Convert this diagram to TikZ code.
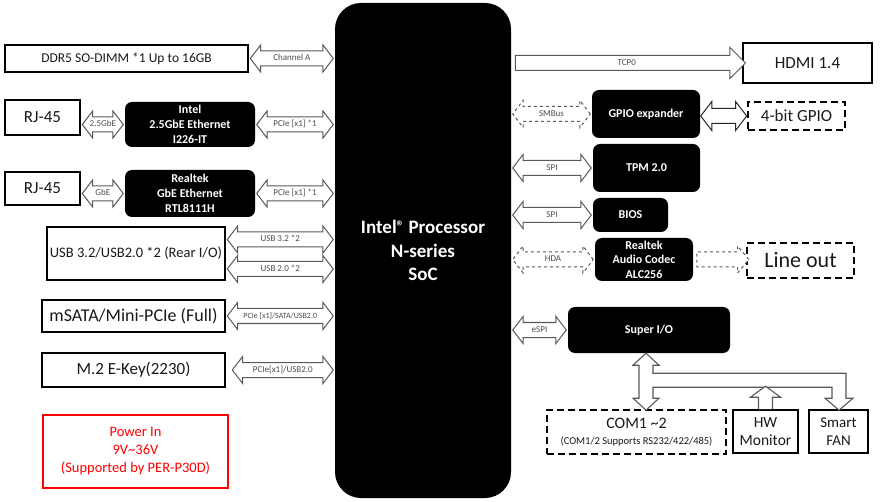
\documentclass[tikz,border=0pt]{standalone}
\usepackage{fontspec}
\setmainfont{Carlito}
\usetikzlibrary{shapes.arrows,calc}

\tikzset{
  box/.style={draw,line width=1.6pt,inner sep=0pt,align=center,text=black!90},
  dashbox/.style={box,dash pattern=on 7pt off 4pt},
  chip/.style={fill=black,text=white,rounded corners=7pt,inner sep=0pt,align=center,
    font=\bfseries\fontsize{12}{15}\selectfont},
  link/.style={draw=black!65,fill=white,line width=1pt,text=black!70,
    font=\fontsize{9}{9}\selectfont,inner xsep=0pt,inner ysep=3pt,
    text height=6.5pt,text depth=1.5pt},
  bus/.style={link,double arrow,double arrow head extend=6pt,double arrow tip angle=105},
  dashbus/.style={bus,dashed},
  fatbus/.style={draw=black!65,fill=white,line width=1.1pt},
}

\begin{document}
\begin{tikzpicture}[x=1pt,y=-1pt]
  \useasboundingbox (0,0) rectangle (880,502);
  % processor
  \node[chip,rounded corners=26pt,minimum width=176,minimum height=495,
    font=\bfseries\fontsize{19}{23.5}\selectfont] (soc) at (423,250.5)
    {Intel\raisebox{0.25ex}{\fontsize{15}{15}\selectfont ®} Processor\\N-series\\SoC};
  % left side
  \node[box,minimum width=243,minimum height=27,font=\fontsize{13.5}{16}\selectfont] (ddr) at (126.5,58.5) {DDR5 SO-DIMM *1 Up to 16GB};
  \node[box,minimum width=75,minimum height=35,font=\fontsize{17}{20}\selectfont] (rja) at (42.5,117.5) {RJ-45};
  \node[chip,minimum width=130,minimum height=45] (lanA) at (190,124.5) {Intel\\2.5GbE Ethernet\\I226-IT};
  \node[box,minimum width=75,minimum height=33,font=\fontsize{17}{20}\selectfont] (rjb) at (42.5,188.5) {RJ-45};
  \node[chip,minimum width=130,minimum height=47] (lanB) at (190,193.5) {Realtek\\GbE Ethernet\\RTL8111H};
  \node[box,minimum width=178,minimum height=53,font=\fontsize{14.5}{17}\selectfont] (usb) at (136,253.5) {USB 3.2/USB2.0 *2 (Rear I/O)};
  \node[box,minimum width=183,minimum height=32,font=\fontsize{18}{20}\selectfont] (msata) at (133.5,316) {mSATA/Mini-PCIe (Full)};
  \node[box,minimum width=183,minimum height=34,font=\fontsize{17}{20}\selectfont] (mkey) at (133.5,370) {M.2 E-Key(2230)};
  \node[box,draw=red,text=red,line width=1.4pt,minimum width=185,minimum height=73,
    font=\fontsize{14.5}{18}\selectfont] (power) at (135.5,451.5) {Power In\\9V\textasciitilde36V\\(Supported by PER-P30D)};
  % right side
  \node[box,minimum width=129,minimum height=40,font=\fontsize{17}{20}\selectfont] (hdmi) at (807.5,63) {HDMI 1.4};
  \node[chip,minimum width=108,minimum height=48] (gpio) at (646,114) {GPIO expander};
  \node[dashbox,minimum width=97,minimum height=28,font=\fontsize{17}{20}\selectfont] (gpiox) at (796.5,116) {4-bit GPIO};
  \node[chip,minimum width=107,minimum height=48] (tpm) at (646.5,168) {TPM 2.0};
  \node[chip,minimum width=75,minimum height=34] (bios) at (630.5,215) {BIOS};
  \node[chip,minimum width=98,minimum height=43,font=\bfseries\fontsize{12}{14.5}\selectfont] (codec) at (644,259.5) {Realtek\\Audio Codec\\ALC256};
  \node[dashbox,minimum width=107,minimum height=35,font=\fontsize{22}{24}\selectfont] (lineout) at (800.5,260.5) {Line out};
  \node[chip,minimum width=162,minimum height=46] (sio) at (649,330) {Super I/O};
  \node[dashbox,minimum width=179,minimum height=44,font=\fontsize{16}{19}\selectfont] (com) at (636.5,432)
    {COM1 \textasciitilde2\\[-3pt]{\fontsize{10.5}{12}\selectfont(COM1/2 Supports RS232/422/485)}};
  \node[box,minimum width=65,minimum height=43,font=\fontsize{15.5}{18}\selectfont] (hwmon) at (765.5,431.5) {HW\\Monitor};
  \node[box,minimum width=59,minimum height=43,font=\fontsize{15}{18}\selectfont] (fan) at (838.5,431.5) {Smart\\FAN};

  % buses on the left
  \path let \p1=(ddr.east), \p2=(soc.west), \n1={\x2-\x1} in
    node[bus,minimum height=\n1-3] (chA) at ({0.5*\x1+0.5*\x2},\y1) {Channel A};
  \path let \p1=(rja.east), \p2=(lanA.west), \n1={\x2-\x1} in
    node[bus,minimum height=\n1-3] (rjaLink) at ({0.5*\x1+0.5*\x2},\y2) {2.5GbE};
  \path let \p1=(lanA.east), \p2=(soc.west), \n1={\x2-\x1} in
    node[bus,minimum height=\n1-3] (lanALink) at ({0.5*\x1+0.5*\x2},\y1) {PCIe [x1] *1};
  \path let \p1=(rjb.east), \p2=(lanB.west), \n1={\x2-\x1} in
    node[bus,minimum height=\n1-3] (rjbLink) at ({0.5*\x1+0.5*\x2},\y2) {GbE};
  \path let \p1=(lanB.east), \p2=(soc.west), \n1={\x2-\x1} in
    node[bus,minimum height=\n1-3] (lanBLink) at ({0.5*\x1+0.5*\x2},\y1) {PCIe [x1] *1};
  \path let \p1=($(usb.east)+(0,-14)$), \p2=(soc.west), \n1={\x2-\x1} in
    node[bus,minimum height=\n1-3] (usb3) at ({0.5*\x1+0.5*\x2},\y1) {USB 3.2 *2};
  \path let \p1=($(usb.east)+(0,15.5)$), \p2=(soc.west), \n1={\x2-\x1} in
    node[bus,minimum height=\n1-3] (usb2) at ({0.5*\x1+0.5*\x2},\y1) {USB 2.0 *2};
  \path let \p1=(msata.east), \p2=(soc.west), \n1={\x2-\x1} in
    node[bus,minimum height=\n1-3,font=\fontsize{8}{8}\selectfont] (msataLink) at ({0.5*\x1+0.5*\x2},\y1) {PCIe [x1]/SATA/USB2.0};
  \path let \p1=(mkey.east), \p2=(soc.west), \n1={\x2-\x1} in
    node[bus,minimum height=\n1-8] (mkeyLink) at ({0.5*\x1+0.5*\x2+2.5},\y1) {PCIe[x1]/USB2.0};

  % buses on the right
  \path let \p1=(soc.east), \p2=(hdmi.west), \n1={\x2-\x1} in
    node[link,single arrow,single arrow head extend=8pt,single arrow tip angle=90,
      minimum height=\n1-1] (tcp) at ({0.5*\x1+0.5*\x2},\y2) {TCP0};
  \path let \p1=(soc.east), \p2=(gpio.west), \n1={\x2-\x1} in
    node[dashbus,minimum height=\n1-3] (smbus) at ({0.5*\x1+0.5*\x2},\y2) {SMBus};
  \path let \p1=(gpio.east), \p2=(gpiox.west), \n1={\x2-\x1} in
    node[bus,draw=black!85,double arrow head extend=7pt,minimum height=\n1-1] (gpioLink) at ({0.5*\x1+0.5*\x2},\y2) {};
  \path let \p1=(soc.east), \p2=(tpm.west), \n1={\x2-\x1} in
    node[bus,minimum height=\n1-3] (spiA) at ({0.5*\x1+0.5*\x2},\y2) {SPI};
  \path let \p1=(soc.east), \p2=(bios.west), \n1={\x2-\x1} in
    node[bus,minimum height=\n1-3] (spiB) at ({0.5*\x1+0.5*\x2},\y2) {SPI};
  \path let \p1=(soc.east), \p2=(codec.west), \n1={\x2-\x1} in
    node[dashbus,minimum height=\n1-3] (hda) at ({0.5*\x1+0.5*\x2},\y2) {HDA};
  \path let \p1=(codec.east), \p2=(lineout.west), \n1={\x2-\x1} in
    node[link,dashed,single arrow,single arrow head extend=6pt,single arrow tip angle=100,
      minimum height=\n1-1] (audioOut) at ({0.5*\x1+0.5*\x2},\y1) {};
  \path let \p1=(soc.east), \p2=(sio.west), \n1={\x2-\x1} in
    node[bus,minimum height=\n1-3] (espi) at ({0.5*\x1+0.5*\x2},\y2) {eSPI};

  % super I/O bus to COM, HW monitor and fan
  \draw[fatbus] ($(sio.south)+(-3,0)$) -- ++(13,12) -- ++(-6,0) -- ++(0,8) -- ++(193,0)
    -- ++(0,25) -- ++(7,0) -- ++(-14,12) -- ++(-14,-12) -- ++(7,0) -- ++(0,-11)
    -- ++(-179,0) -- ++(0,11) -- ++(6,0) -- ++(-13,12) -- ++(-13,-12) -- ++(6,0)
    -- ++(0,-33) -- ++(-6,0) -- cycle;
  \draw[fatbus] ($(hwmon.north)+(-7,0)$) -- ++(0,-12) -- ++(-8,0) -- ++(15,-11)
    -- ++(15,11) -- ++(-8,0) -- ++(0,12);
\end{tikzpicture}
\end{document}
